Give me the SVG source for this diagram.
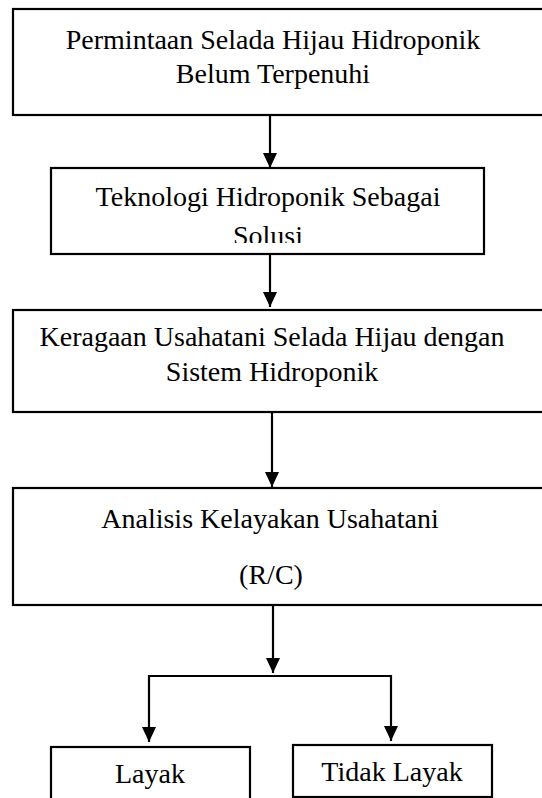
<svg xmlns="http://www.w3.org/2000/svg" width="542" height="798" viewBox="0 0 542 798">
<style>
.box{fill:#fff;stroke:#000;stroke-width:2.2}
.t{font-family:"Liberation Serif","Times New Roman",serif;font-size:28px;fill:#000;text-anchor:middle}
.c{fill:none;stroke:#000;stroke-width:2.2}
</style>
<defs>
<marker id="ah" viewBox="0 0 15 14" refX="15" refY="7" markerWidth="15" markerHeight="14" markerUnits="userSpaceOnUse" orient="auto-start-reverse">
<path d="M0,0 L15,7 L0,14 Z" fill="#000"/>
</marker>
<clipPath id="clip2"><rect x="51" y="168" width="434" height="75"/></clipPath>
</defs>
<rect width="542" height="798" fill="#fff"/>
<g id="n1">
<rect class="box" x="13" y="9" width="540" height="106"/>
<text class="t" x="273" y="49">Permintaan Selada Hijau Hidroponik</text>
<text class="t" x="273" y="83">Belum Terpenuhi</text>
</g>
<g id="n2">
<rect class="box" x="51" y="168" width="433" height="86"/>
<g clip-path="url(#clip2)">
<text class="t" x="268" y="206">Teknologi Hidroponik Sebagai</text>
<text class="t" x="268" y="245">Solusi</text>
</g>
</g>
<g id="n3">
<rect class="box" x="13" y="310" width="540" height="102"/>
<text class="t" x="272" y="346">Keragaan Usahatani Selada Hijau dengan</text>
<text class="t" x="272" y="381">Sistem Hidroponik</text>
</g>
<g id="n4">
<rect class="box" x="13" y="488" width="540" height="117"/>
<text class="t" x="270" y="528">Analisis Kelayakan Usahatani</text>
<text class="t" x="271" y="584">(R/C)</text>
</g>
<g id="n5">
<rect class="box" x="51" y="747" width="199" height="60"/>
<text class="t" x="150" y="783">Layak</text>
</g>
<g id="n6">
<rect class="box" x="293" y="745" width="199" height="52"/>
<text class="t" x="392" y="781">Tidak Layak</text>
</g>
<g id="connectors">
<line class="c" x1="270" y1="115" x2="270" y2="168" marker-end="url(#ah)"/>
<line class="c" x1="270" y1="254" x2="270" y2="307" marker-end="url(#ah)"/>
<line class="c" x1="272" y1="412" x2="272" y2="487" marker-end="url(#ah)"/>
<line class="c" x1="273" y1="605" x2="273" y2="673" marker-end="url(#ah)"/>
<polyline class="c" points="149,742 149,676 391,676 391,741" marker-start="url(#ah)" marker-end="url(#ah)"/>
</g>
</svg>
